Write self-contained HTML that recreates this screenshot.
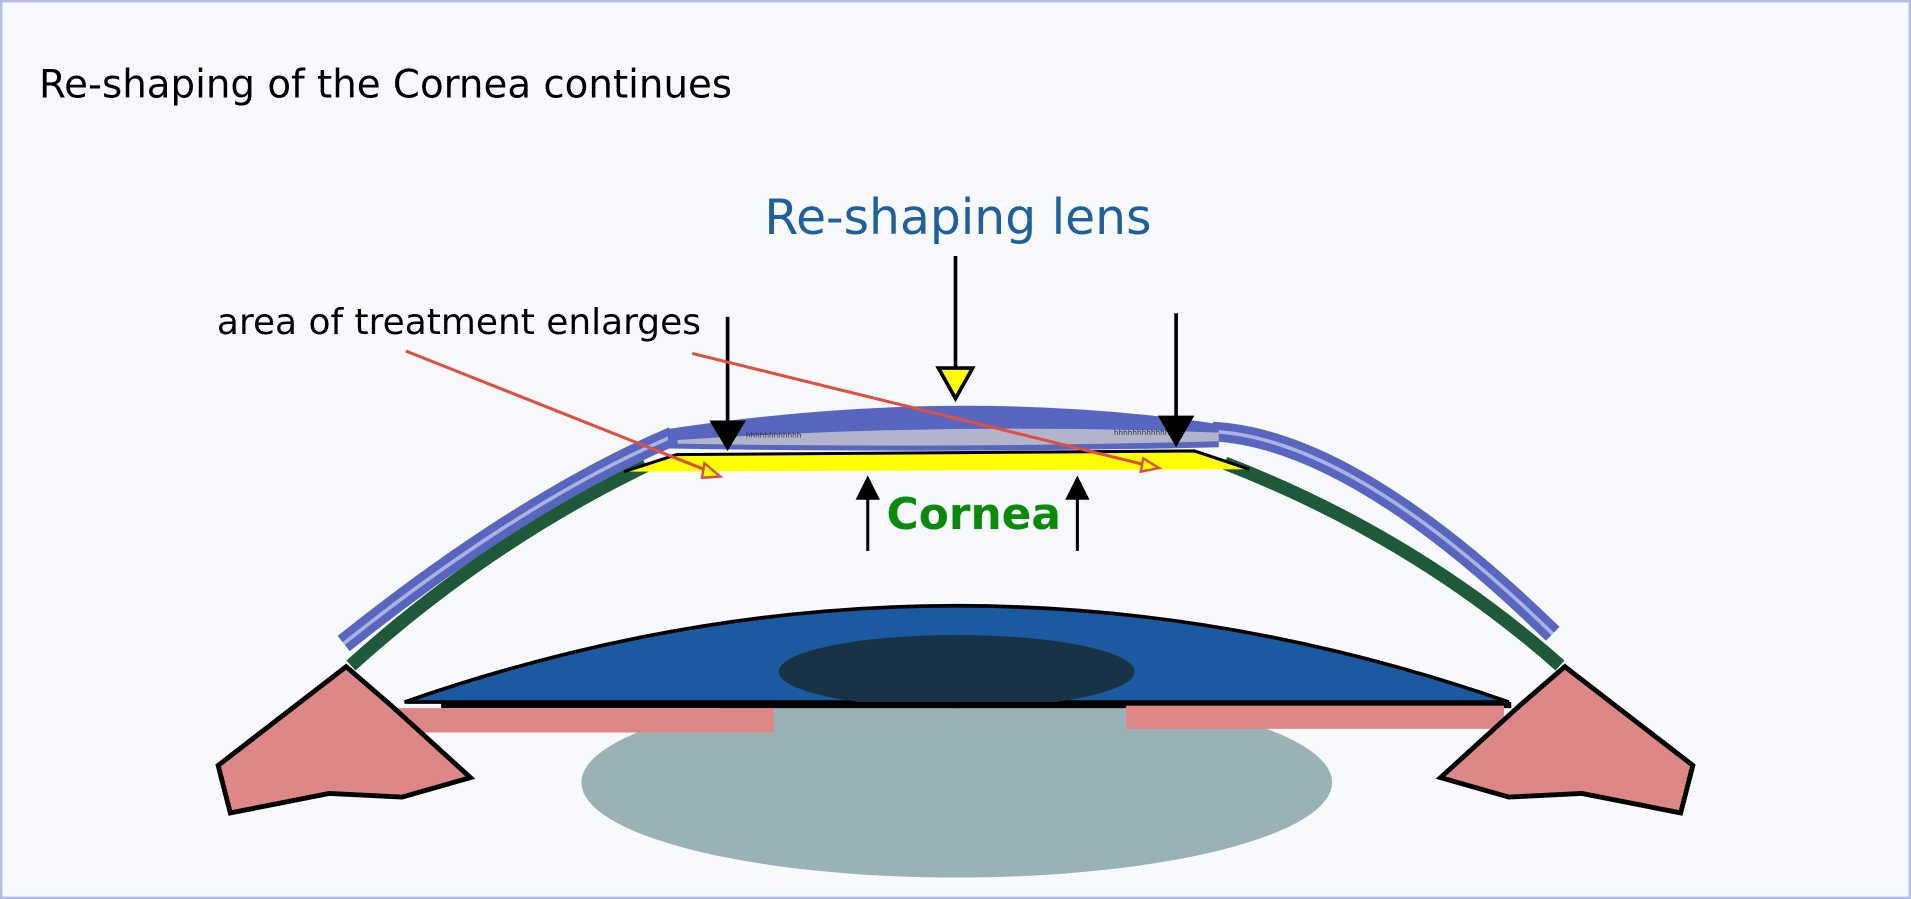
<!DOCTYPE html>
<html><head><meta charset="utf-8"><style>
html,body{margin:0;padding:0;background:#f8f9fd}
svg{display:block}
</style></head><body>
<svg width="1911" height="899" viewBox="0 0 1568 737.6" preserveAspectRatio="none" xmlns="http://www.w3.org/2000/svg">
<rect x="1" y="1" width="1566" height="735.6" fill="#f8f9fd" stroke="#b4bcec" stroke-width="2"/>
<text x="32" y="80" font-family="DejaVu Sans, Liberation Sans, sans-serif" font-size="31.8" fill="#000">Re-shaping of the Cornea continues</text>
<text x="786" y="192" text-anchor="middle" font-family="DejaVu Sans, Liberation Sans, sans-serif" font-size="40" fill="#1f5f9f">Re-shaping lens</text>
<text x="178" y="274" font-family="DejaVu Sans, Liberation Sans, sans-serif" font-size="29.5" fill="#000">area of treatment enlarges</text>

<ellipse cx="785" cy="642" rx="308" ry="78" fill="#9ab1b5"/>
<path d="M332 576 Q 785 418 1238 576 Z" fill="#1b5aa0" stroke="#000" stroke-width="3"/>
<ellipse cx="785" cy="551" rx="146" ry="30" fill="#183246"/>
<rect x="362" y="576" width="878" height="5" fill="#000"/>
<rect x="318" y="581" width="317" height="20" fill="#de8787"/>
<rect x="924" y="579" width="310" height="19" fill="#de8787"/>
<polygon points="284,547 179,628 189,667 270,651 330,654 386,638 320,578" fill="#de8787" stroke="#000" stroke-width="4"/>
<polygon points="1284,547 1389,628 1379,667 1298,651 1238,654 1182,638 1248,578" fill="#de8787" stroke="#000" stroke-width="4"/>

<path d="M288 546 Q 400 445 530 382" fill="none" stroke="#1e5a3a" stroke-width="11"/>
<path d="M1005 380 Q 1160 440 1280 546" fill="none" stroke="#1e5a3a" stroke-width="11"/>
<polygon points="512,387 555,373 980,370 1025,385" fill="#ffff00"/>
<polyline points="512,387 555,373 980,370 1025,385" fill="none" stroke="#000" stroke-width="2.5"/>

<path d="M282 528 Q 430 410 552 358" fill="none" stroke="#5866c0" stroke-width="16"/>
<path d="M282 528 Q 430 410 552 358" fill="none" stroke="#aab2e2" stroke-width="3"/>
<path d="M995 354 Q 1110 360 1274 520" fill="none" stroke="#5866c0" stroke-width="16"/>
<path d="M995 354 Q 1110 360 1274 520" fill="none" stroke="#aab2e2" stroke-width="3"/>
<path d="M548 352 Q 785 316 1000 348 L 1000 367 Q 785 372 548 368 Z" fill="#5866c0"/>
<path d="M556 361 Q 780 346 1000 355 L 1000 362 Q 780 368 556 364 Z" fill="#b2b4cc"/>
<text x="612" y="359" font-family="DejaVu Sans, sans-serif" font-size="6" fill="#333">hhhhhhhhhhhh</text>
<text x="914" y="357" font-family="DejaVu Sans, sans-serif" font-size="6" fill="#333">hhhhhhhhhhhh</text>

<line x1="597" y1="260" x2="597" y2="346" stroke="#000" stroke-width="3"/>
<polygon points="582,345 612,345 597,370" fill="#000"/>
<line x1="965" y1="257" x2="965" y2="342" stroke="#000" stroke-width="3"/>
<polygon points="950,341 980,341 965,367" fill="#000"/>
<line x1="784" y1="210" x2="784" y2="302" stroke="#000" stroke-width="3"/>
<polygon points="770,302 798,302 784,327" fill="#ffff00" stroke="#000" stroke-width="3"/>

<line x1="712" y1="452" x2="712" y2="408" stroke="#000" stroke-width="2.5"/>
<polygon points="702,410 722,410 712,390" fill="#000"/>
<line x1="884" y1="452" x2="884" y2="408" stroke="#000" stroke-width="2.5"/>
<polygon points="874,410 894,410 884,390" fill="#000"/>
<text x="799" y="434" text-anchor="middle" font-family="DejaVu Sans, Liberation Sans, sans-serif" font-weight="bold" font-size="36" fill="#0a8a0a">Cornea</text>

<line x1="333" y1="288" x2="580" y2="386" stroke="#e05040" stroke-width="2.5"/>
<polygon points="578,380 591,391 576,392" fill="#ff0" stroke="#e05040" stroke-width="2"/>
<line x1="568" y1="290" x2="938" y2="381" stroke="#e05040" stroke-width="2.5"/>
<polygon points="938,376 951,384 936,387" fill="#ff0" stroke="#e05040" stroke-width="2"/>
</svg>
</body></html>
